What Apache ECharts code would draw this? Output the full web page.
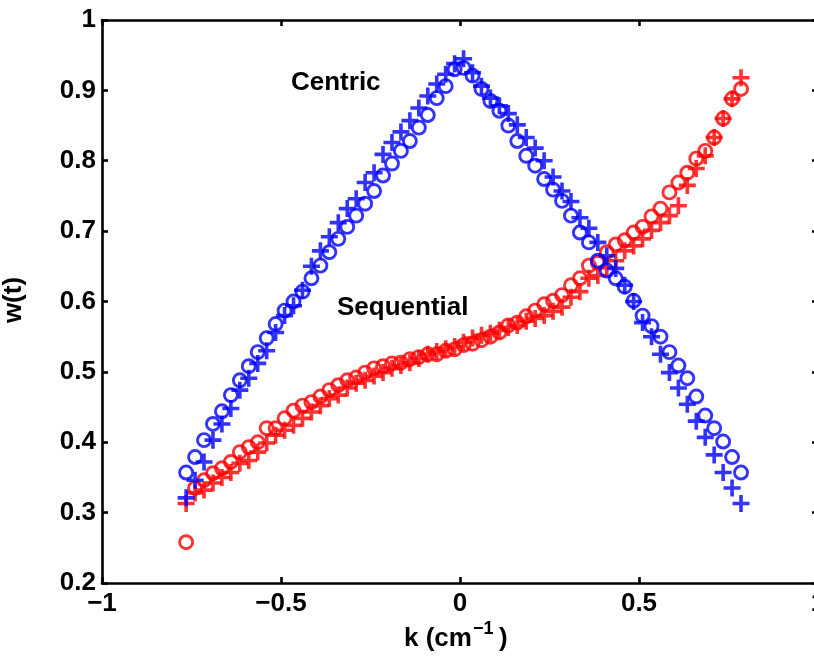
<!DOCTYPE html>
<html>
<head>
<meta charset="utf-8">
<script src="https://cdn.jsdelivr.net/npm/echarts@6/dist/echarts.min.js"></script>
<style>html,body{margin:0;padding:0;background:#fff}#c{width:814px;height:659px}</style>
</head>
<body>
<div id="c"></div>
<script>
const kValues = [-0.765,-0.74,-0.715,-0.69,-0.665,-0.64,-0.615,-0.59,-0.565,-0.54,-0.515,-0.49,-0.465,-0.44,-0.415,-0.39,-0.365,-0.34,-0.315,-0.29,-0.265,-0.24,-0.215,-0.19,-0.165,-0.14,-0.115,-0.09,-0.065,-0.04,-0.015,0.01,0.035,0.06,0.085,0.11,0.135,0.16,0.185,0.21,0.235,0.26,0.285,0.31,0.335,0.36,0.385,0.41,0.435,0.46,0.485,0.51,0.535,0.56,0.585,0.61,0.635,0.66,0.685,0.71,0.735,0.76,0.785];
const centricCircle = [0.357,0.379,0.403,0.426,0.444,0.467,0.488,0.508,0.528,0.548,0.568,0.587,0.600,0.614,0.633,0.651,0.670,0.689,0.706,0.722,0.739,0.757,0.779,0.796,0.814,0.828,0.847,0.865,0.889,0.906,0.930,0.932,0.921,0.902,0.885,0.871,0.850,0.828,0.807,0.793,0.774,0.759,0.743,0.722,0.698,0.684,0.658,0.644,0.633,0.621,0.601,0.580,0.565,0.550,0.528,0.509,0.491,0.465,0.438,0.420,0.401,0.379,0.357];
const centricPlus = [0.321,0.346,0.372,0.403,0.426,0.448,0.474,0.491,0.512,0.530,0.556,0.580,0.594,0.616,0.650,0.672,0.692,0.712,0.732,0.746,0.769,0.783,0.809,0.826,0.841,0.857,0.875,0.892,0.909,0.923,0.938,0.945,0.925,0.906,0.889,0.878,0.867,0.851,0.833,0.818,0.800,0.777,0.757,0.742,0.719,0.704,0.684,0.665,0.647,0.623,0.600,0.570,0.550,0.525,0.499,0.477,0.454,0.430,0.407,0.382,0.357,0.335,0.313];
const seqCircle = [0.258,0.335,0.346,0.356,0.363,0.372,0.386,0.393,0.400,0.420,0.420,0.434,0.445,0.452,0.457,0.465,0.474,0.481,0.488,0.492,0.499,0.505,0.508,0.512,0.513,0.518,0.521,0.525,0.525,0.530,0.532,0.538,0.540,0.545,0.550,0.556,0.566,0.570,0.579,0.587,0.596,0.601,0.609,0.623,0.633,0.651,0.655,0.670,0.681,0.687,0.698,0.706,0.721,0.732,0.755,0.769,0.783,0.803,0.814,0.833,0.860,0.888,0.902];
const seqPlus = [0.313,0.328,0.332,0.342,0.350,0.357,0.370,0.374,0.386,0.399,0.410,0.417,0.424,0.434,0.443,0.452,0.462,0.467,0.477,0.484,0.488,0.494,0.499,0.505,0.509,0.513,0.519,0.525,0.529,0.533,0.536,0.542,0.548,0.552,0.555,0.559,0.563,0.566,0.572,0.576,0.580,0.586,0.592,0.606,0.614,0.633,0.637,0.648,0.658,0.672,0.679,0.689,0.701,0.712,0.722,0.736,0.765,0.789,0.807,0.833,0.860,0.888,0.918];
const xTicks = {'-1':'\u22121','-0.5':'\u22120.5','0':'0','0.5':'0.5','1':'1'};

const FONT = '"Liberation Sans", Arial, Helvetica, sans-serif';
const pairs = ys => kValues.map((k, i) => [k, ys[i]]);
const PLUS = 'path://M0,6.3H16V9.7H0Z M6.3,0H9.7V16H6.3Z';

function circleSeries(ys, col) {
  return { type: 'scatter', data: pairs(ys), symbol: 'circle', symbolSize: 13, silent: true,
    itemStyle: { color: 'rgba(0,0,0,0)', borderColor: col, borderWidth: 2.9 } };
}
function plusSeries(ys, col) {
  return { type: 'scatter', data: pairs(ys), symbol: PLUS, symbolSize: 17, silent: true,
    itemStyle: { color: col } };
}
const axisLabel = { fontFamily: FONT, fontWeight: 'bold', fontSize: 26, color: '#000' };
const lineStyle = { color: '#000', width: 2.6 };
const axLine = { onZero: false, lineStyle };

const chart = echarts.init(document.getElementById('c'), null, { renderer: 'canvas' });
chart.setOption({
  animation: false,
  backgroundColor: '#fff',
  grid: { left: 102, top: 20, right: -4, bottom: 76, containLabel: false, outerBoundsMode: 'none' },
  xAxis: [
    { type: 'value', min: -1, max: 1, interval: 0.5, position: 'bottom',
      axisLine: axLine, axisTick: { inside: true, length: 6, lineStyle },
      splitLine: { show: false },
      axisLabel: Object.assign({ margin: 8, formatter: v => xTicks[String(v)] ?? String(v) }, axisLabel) },
    { type: 'value', min: -1, max: 1, interval: 0.5, position: 'top',
      axisLine: axLine, axisTick: { inside: true, length: 6, lineStyle },
      splitLine: { show: false }, axisLabel: { show: false } }
  ],
  yAxis: [
    { type: 'value', min: 0.2, max: 1, interval: 0.1, position: 'left',
      axisLine: axLine, axisTick: { inside: true, length: 6, lineStyle },
      splitLine: { show: false },
      axisLabel: Object.assign({ margin: 6, formatter: v => (Math.abs(v - 1) < 1e-9 ? '1' : v.toFixed(1)) }, axisLabel) },
    { type: 'value', min: 0.2, max: 1, interval: 0.1, position: 'right',
      axisLine: axLine, axisTick: { inside: true, length: 6, lineStyle },
      splitLine: { show: false }, axisLabel: { show: false } }
  ],
  series: [
    circleSeries(seqCircle, '#ff0000'),
    plusSeries(seqPlus, '#ff0000'),
    circleSeries(centricCircle, '#0000ff'),
    plusSeries(centricPlus, '#0000ff')
  ],
  graphic: [
    { type: 'text', left: 291, top: 70, silent: true,
      style: { text: 'Centric', font: 'bold 26px ' + FONT, fill: '#000' } },
    { type: 'text', left: 337, top: 295, silent: true,
      style: { text: 'Sequential', font: 'bold 26px ' + FONT, fill: '#000' } },
    { type: 'text', left: 404, top: 626, silent: true,
      style: { text: 'k (cm', font: 'bold 26px ' + FONT, fill: '#000' } },
    { type: 'text', left: 473, top: 620, silent: true,
      style: { text: '\u22121', font: 'bold 18px ' + FONT, fill: '#000' } },
    { type: 'text', left: 499, top: 626, silent: true,
      style: { text: ')', font: 'bold 26px ' + FONT, fill: '#000' } },
    { type: 'text', x: 14, y: 300, rotation: Math.PI / 2, silent: true,
      style: { text: 'w(t)', font: 'bold 26px ' + FONT, fill: '#000', align: 'center', verticalAlign: 'middle' } }
  ]
});
</script>
</body>
</html>
